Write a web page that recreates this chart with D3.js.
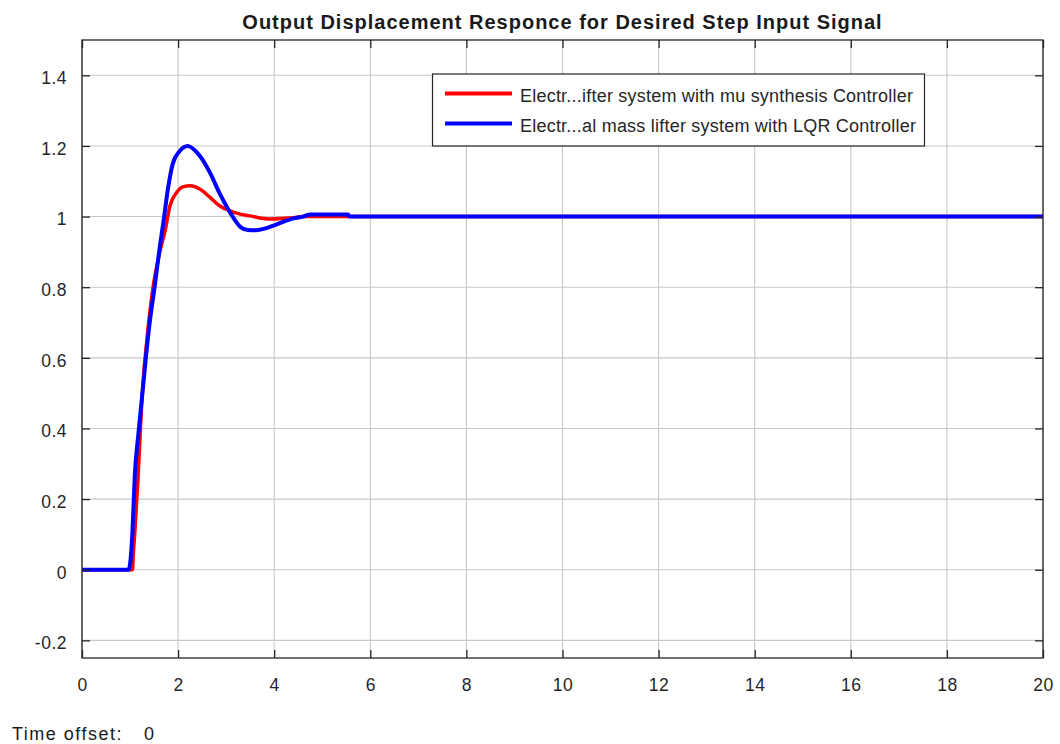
<!DOCTYPE html>
<html>
<head>
<meta charset="utf-8">
<script src="https://cdn.jsdelivr.net/npm/d3@7/dist/d3.min.js"></script>
<style>
html,body{margin:0;padding:0;background:#fff;}
svg{display:block;}
text{font-family:"Liberation Sans",Arial,Helvetica,sans-serif;}
</style>
</head>
<body>
<svg id="chart" width="1060" height="744"></svg>
<script>
// ---- data ----
const titleText = "Output Displacement Responce for Desired Step Input Signal";
const seriesNames = [
  "Electr...ifter system with mu synthesis Controller",
  "Electr...al mass lifter system with LQR Controller"
];
const seriesColors = ["#ff0000", "#0000ff"];
const muTime  = [0, 1.05, 1.07, 1.1, 1.17, 1.25, 1.38, 1.49, 1.62, 1.73, 1.83, 1.97, 2.1, 2.25, 2.45, 2.66, 2.87, 3.08, 3.29, 3.5, 3.7, 3.92, 4.2, 4.4, 4.6, 5.54, 20];
const muValue = [0, 0, 0.05, 0.107, 0.27, 0.49, 0.69, 0.81, 0.9, 0.96, 1.03, 1.068, 1.084, 1.087, 1.078, 1.055, 1.03, 1.016, 1.007, 1.002, 0.996, 0.993, 0.995, 0.997, 1.0, 1.0, 1.0];
const lqrTime  = [0, 0.97, 1.05, 1.1, 1.17, 1.25, 1.4, 1.52, 1.625, 1.7, 1.79, 1.89, 2.03, 2.2, 2.45, 2.66, 2.87, 3.08, 3.3, 3.45, 3.6, 3.8, 4.0, 4.2, 4.4, 4.6, 4.75, 5.54, 5.56, 20];
const lqrValue = [0, 0, 0.107, 0.27, 0.38, 0.49, 0.69, 0.81, 0.92, 0.99, 1.08, 1.15, 1.185, 1.2, 1.172, 1.125, 1.064, 1.012, 0.97, 0.962, 0.961, 0.966, 0.975, 0.986, 0.995, 1.0, 1.006, 1.006, 1.0, 1.0];
const xTicks = [0, 2, 4, 6, 8, 10, 12, 14, 16, 18, 20];
const yTicks = [-0.2, 0, 0.2, 0.4, 0.6, 0.8, 1, 1.2, 1.4];
const footerText = "Time offset:";
const footerValue = "0";

// ---- layout ----
const svg = d3.select("#chart");
const L = 82, R = 1043, T = 40, B = 658;
const x = d3.scaleLinear().domain([0, 20]).range([L, R]);
const y = d3.scaleLinear().domain([-0.25, 1.5]).range([B, T]);

// grid
const g = svg.append("g");
g.selectAll("line.vg").data(xTicks).enter().append("line")
  .attr("x1", d => x(d)).attr("x2", d => x(d)).attr("y1", T).attr("y2", B)
  .attr("stroke", "#c8c8c8").attr("stroke-width", 1.1);
g.selectAll("line.hg").data(yTicks).enter().append("line")
  .attr("x1", L).attr("x2", R).attr("y1", d => y(d)).attr("y2", d => y(d))
  .attr("stroke", "#c8c8c8").attr("stroke-width", 1.1);

// lines
const line = d3.line().x(d => x(d[0])).y(d => y(d[1])).curve(d3.curveMonotoneX);
const muData = muTime.map((t, i) => [t, muValue[i]]);
const lqrData = lqrTime.map((t, i) => [t, lqrValue[i]]);
svg.append("path").datum(muData).attr("d", line).attr("fill", "none")
  .attr("stroke", seriesColors[0]).attr("stroke-width", 3.5).attr("stroke-linejoin", "round");
svg.append("path").datum(lqrData).attr("d", line).attr("fill", "none")
  .attr("stroke", seriesColors[1]).attr("stroke-width", 4).attr("stroke-linejoin", "round");

// axes (box with inward ticks on all sides)
const axisColor = "#262626";
const fsTick = 17.5;
const axB = svg.append("g").attr("transform", `translate(0,${B})`)
  .call(d3.axisBottom(x).tickValues(xTicks).tickSize(-8).tickPadding(21).tickFormat(d3.format("d")));
const axT = svg.append("g").attr("transform", `translate(0,${T})`)
  .call(d3.axisTop(x).tickValues(xTicks).tickSize(-8).tickFormat(""));
const axL = svg.append("g").attr("transform", `translate(${L},0)`)
  .call(d3.axisLeft(y).tickValues(yTicks).tickSize(-8).tickPadding(15).tickFormat(d => String(+d.toFixed(1))));
const axR = svg.append("g").attr("transform", `translate(${R},0)`)
  .call(d3.axisRight(y).tickValues(yTicks).tickSize(-8).tickFormat(""));
[axB, axT, axL, axR].forEach(a => {
  a.select(".domain").remove();
  a.selectAll(".tick line").attr("stroke", axisColor).attr("stroke-width", 1.3);
  a.selectAll(".tick text").attr("fill", "#262626").attr("font-size", fsTick)
    .attr("letter-spacing", 0.5)
    .attr("font-family", "'Liberation Sans', Arial, sans-serif");
});
axB.selectAll(".tick text").attr("dy", "0.71em");
axL.selectAll(".tick text").attr("dy", "0.48em");
svg.append("rect").attr("x", L).attr("y", T).attr("width", R - L).attr("height", B - T)
  .attr("fill", "none").attr("stroke", axisColor).attr("stroke-width", 1.3);

// title
svg.append("text").attr("x", (L + R) / 2).attr("y", 29).attr("text-anchor", "middle")
  .attr("font-weight", "bold").attr("font-size", 20).attr("letter-spacing", 1)
  .attr("fill", "#1a1a1a").text(titleText);

// legend
const lg = svg.append("g");
lg.append("rect").attr("x", 432.5).attr("y", 74).attr("width", 492).attr("height", 72)
  .attr("fill", "#fff").attr("stroke", "#262626").attr("stroke-width", 1.2);
seriesNames.forEach((name, i) => {
  const yy = 93.5 + i * 30;
  lg.append("line").attr("x1", 445).attr("x2", 512).attr("y1", yy).attr("y2", yy)
    .attr("stroke", seriesColors[i]).attr("stroke-width", 4);
  lg.append("text").attr("x", 520).attr("y", yy).attr("dy", "0.45em")
    .attr("font-size", 18).attr("letter-spacing", 0.22).attr("fill", "#262626").text(name);
});

// footer
svg.append("text").attr("x", 12).attr("y", 740).attr("font-size", 18).attr("letter-spacing", 1.5)
  .attr("fill", "#1a1a1a").text(footerText);
svg.append("text").attr("x", 144).attr("y", 740).attr("font-size", 18).attr("fill", "#1a1a1a")
  .text(footerValue);
</script>
</body>
</html>
